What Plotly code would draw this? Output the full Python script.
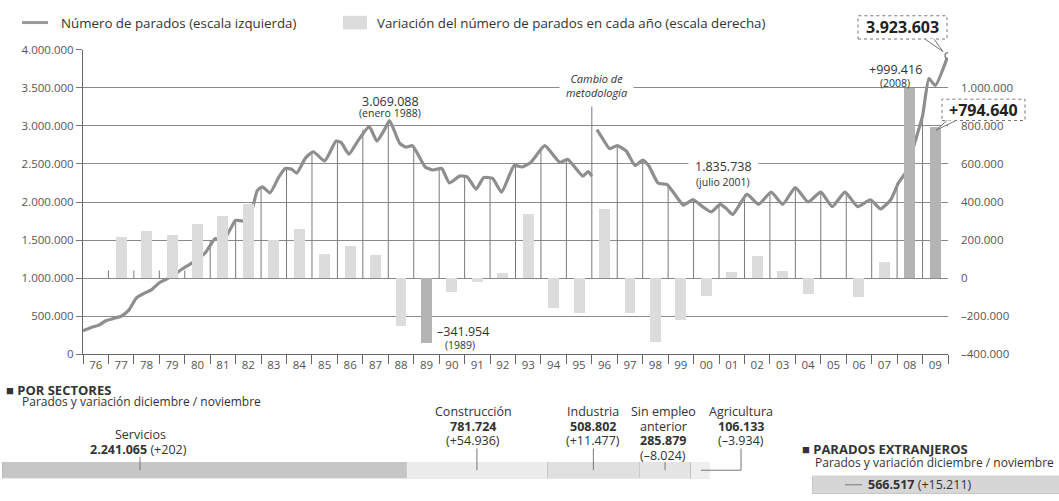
import plotly.graph_objects as go

W, H = 1059, 501

# ---------------- DATA ----------------
# Paro registrado (escala izquierda) - metodología antigua (1976-1996)
fecha_antigua = [1976.00, 1976.30, 1976.60, 1976.90, 1977.20, 1977.50, 1977.80, 1978.10, 1978.40, 1978.70,
                 1979.00, 1979.30, 1979.60, 1979.90, 1980.20, 1980.50, 1980.80, 1981.00, 1981.20, 1981.50,
                 1981.80, 1982.00, 1982.30, 1982.60, 1982.85, 1983.05, 1983.35, 1983.70, 1983.95, 1984.20,
                 1984.40, 1984.75, 1985.05, 1985.50, 1985.95, 1986.15, 1986.45, 1986.80, 1987.25, 1987.55,
                 1987.85, 1988.05, 1988.45, 1988.70, 1988.95, 1989.45, 1989.75, 1990.10, 1990.40, 1990.80,
                 1991.10, 1991.45, 1991.75, 1992.10, 1992.45, 1992.95, 1993.25, 1993.60, 1994.15, 1994.50,
                 1994.75, 1995.05, 1995.65, 1995.85, 1996.00]
paro_antigua = [310000, 350000, 380000, 440000, 470000, 500000, 580000, 740000, 800000, 850000,
                940000, 990000, 1050000, 1120000, 1180000, 1250000, 1330000, 1430000, 1520000, 1490000,
                1650000, 1760000, 1750000, 1850000, 2150000, 2200000, 2120000, 2330000, 2440000, 2430000,
                2380000, 2580000, 2660000, 2540000, 2800000, 2780000, 2630000, 2800000, 2990000, 2800000,
                2950000, 3069088, 2770000, 2720000, 2740000, 2460000, 2420000, 2440000, 2250000, 2340000,
                2330000, 2170000, 2320000, 2310000, 2130000, 2480000, 2460000, 2520000, 2740000, 2610000,
                2520000, 2560000, 2340000, 2400000, 2340000]
# Paro registrado - nueva metodología (1996-2009)
fecha_nueva = [1996.20, 1996.45, 1996.70, 1997.00, 1997.35, 1997.70, 1998.00, 1998.25, 1998.60, 1998.95,
               1999.35, 1999.60, 1999.98, 2000.35, 2000.70, 2001.05, 2001.30, 2001.54, 2002.10, 2002.55,
               2003.05, 2003.50, 2004.00, 2004.50, 2005.00, 2005.45, 2005.95, 2006.45, 2006.95, 2007.35,
               2007.75, 2008.05, 2008.40, 2008.65, 2009.00, 2009.25, 2009.50, 2010.00]
paro_nueva = [2950000, 2820000, 2700000, 2740000, 2670000, 2480000, 2550000, 2470000, 2250000, 2230000,
              2060000, 1960000, 2030000, 1940000, 1870000, 1970000, 1910000, 1835738, 2100000, 1970000,
              2130000, 1970000, 2190000, 2000000, 2130000, 1940000, 2130000, 1940000, 2030000, 1910000,
              2030000, 2250000, 2420000, 2730000, 3130000, 3620000, 3530000, 3923603]

# Variación anual del número de parados (escala derecha)
anios = list(range(1976, 2010))
etiq_anios = ["76", "77", "78", "79", "80", "81", "82", "83", "84", "85", "86", "87", "88", "89", "90", "91", "92",
              "93", "94", "95", "96", "97", "98", "99", "00", "01", "02", "03", "04", "05", "06", "07", "08", "09"]
variacion = [None, 215000, 250000, 226000, 285000, 328000, 392000, 198000, 260000, 127000, 168000, 122000,
             -249000, -341954, -71000, -20000, 25000, 336000, -158000, -183000, 361000, -183000, -336000,
             -219000, -92000, 31000, 117000, 36000, -81000, None, -97000, 85000, 999416, 794640]
destacados = [1989, 2008, 2009]

# Altura de las líneas verticales al inicio de cada año (desde el 0 de la escala derecha)
limites = list(range(1977, 2010))
tope_linea = [1100000, 1100000, 1100000, 1100000, 1500000, 1760000, 2200000, 2440000, 2660000, 2800000,
              2950000, 3069088, 2740000, 2440000, 2330000, 2310000, 2470000, 2720000, 2560000, 3310000,
              2740000, 2550000, 2230000, 2030000, 1970000, 2100000, 2130000, 2190000, 2130000, 2130000,
              2030000, 2250000, 3130000]

ticks_izq = [0, 500000, 1000000, 1500000, 2000000, 2500000, 3000000, 3500000, 4000000]
etiq_izq = ["0", "500.000", "1.000.000", "1.500.000", "2.000.000", "2.500.000", "3.000.000", "3.500.000", "4.000.000"]
ticks_der = [-400000, -200000, 0, 200000, 400000, 600000, 800000, 1000000]
etiq_der = ["–400.000", "–200.000", "0", "200.000", "400.000", "600.000", "800.000", "1.000.000"]

# Por sectores
sectores = ["Servicios", "Construcción", "Industria", "Sin empleo anterior", "Agricultura"]
parados_sector = [2241065, 781724, 508802, 285879, 106133]
variacion_sector = [202, 54936, 11477, -8024, -3934]
colores_sector = ["#c6c6c6", "#ececec", "#e0e0e0", "#e5e5e5", "#eeeeee"]

# Parados extranjeros
extranjeros = 566517
variacion_extranjeros = 15211

# ---------------- helpers ----------------
def px(x):
    return x / W

def py(y):
    return 1 - y / H

def fmt(n, signo=False):
    s = f"{abs(n):,}".replace(",", ".")
    if n < 0:
        return "–" + s
    return ("+" + s) if signo else s

FONT = "Open Sans"
TXT = "#333333"
GRIS = "#555555"

fig = go.Figure()

# Barras de variación anual (eje derecho)
bx = [a + 0.5 for a, v in zip(anios, variacion) if v is not None]
by = [v for v in variacion if v is not None]
bc = ["#b4b4b4" if a in destacados else "#dcdcdc" for a, v in zip(anios, variacion) if v is not None]
fig.add_trace(go.Bar(x=bx, y=by, marker=dict(color=bc, line=dict(width=0)), width=0.43,
                     xaxis="x", yaxis="y2", hoverinfo="skip"))

# Líneas verticales al inicio de cada año (eje izquierdo)
vx, vy = [], []
for b, t in zip(limites, tope_linea):
    vx += [b, b, None]
    vy += [1000000, t, None]
fig.add_trace(go.Scatter(x=vx, y=vy, mode="lines", line=dict(color="#7a7a7a", width=1),
                         xaxis="x", yaxis="y", hoverinfo="skip"))

# Serie del paro
for fx, fv in [(fecha_antigua, paro_antigua), (fecha_nueva, paro_nueva)]:
    fig.add_trace(go.Scatter(x=fx, y=fv, mode="lines",
                             line=dict(color="#8e8e8e", width=3.2, shape="spline", smoothing=0.5),
                             xaxis="x", yaxis="y", hoverinfo="skip"))
fig.add_trace(go.Scatter(x=[fecha_nueva[-1]], y=[paro_nueva[-1]], mode="markers",
                         marker=dict(symbol="circle", size=6, color="white", line=dict(color="#777", width=1.3)),
                         xaxis="x", yaxis="y", hoverinfo="skip"))

# Barra de sectores (apilada)
for nombre, valor, color in zip(sectores, parados_sector, colores_sector):
    fig.add_trace(go.Bar(x=[valor], y=[0], orientation="h", width=1,
                         marker=dict(color=color, line=dict(color="#b8b8b8", width=0.6)),
                         xaxis="x3", yaxis="y3", hoverinfo="skip", name=nombre))

# Parados extranjeros
fig.add_trace(go.Bar(x=[extranjeros], y=[0], orientation="h", width=1,
                     marker=dict(color="#d6d6d6", line=dict(color="#bdbdbd", width=0.6)),
                     xaxis="x4", yaxis="y4", hoverinfo="skip"))

total = sum(parados_sector)

# posiciones (px) de la parte inferior
Y_TIT = 394
Y_R1, Y_R2, Y_R3, Y_R4 = 416, 431, 446, 461
BAR_T, BAR_B = 468, 485
EXT_T, EXT_B = 482, 501

fig.update_layout(
    width=W, height=H,
    margin=dict(l=0, r=0, t=0, b=0),
    paper_bgcolor="white", plot_bgcolor="white",
    showlegend=False, barmode="stack",
    font=dict(family=FONT, color=TXT),
    xaxis=dict(domain=[px(83), px(948)], range=[1976, 2010],
               tickmode="array", tickvals=[a + 0.5 for a in anios], ticktext=etiq_anios,
               ticks="", showgrid=False, zeroline=False, showline=True, linecolor="#666", linewidth=1,
               tickfont=dict(size=11.5, color=GRIS, family=FONT),
               minor=dict(tickmode="array", tickvals=list(range(1976, 2011)), ticks="outside",
                          ticklen=9, tickcolor="#666", tickwidth=1, showgrid=False)),
    yaxis=dict(domain=[py(357), py(43)], range=[0, 4000000],
               tickmode="array", tickvals=ticks_izq, ticktext=etiq_izq,
               showgrid=True, gridcolor="#8a8a8a", gridwidth=1, zeroline=False,
               showline=True, linecolor="#666", linewidth=1,
               ticks="outside", ticklen=6, tickcolor="#777",
               tickfont=dict(size=11.5, color=GRIS, family=FONT)),
    yaxis2=dict(overlaying="y", side="right", anchor="x", range=[-400000, 1200000],
                tickmode="array", tickvals=ticks_der, ticktext=etiq_der,
                showgrid=False, zeroline=False, showline=False, ticks="",
                ticklabelstandoff=12,
                tickfont=dict(size=11.5, color=GRIS, family=FONT)),
    xaxis3=dict(domain=[px(2), px(710)], range=[0, total], visible=False, anchor="y3"),
    yaxis3=dict(domain=[py(BAR_B), py(BAR_T)], range=[-0.5, 0.5], visible=False, anchor="x3"),
    xaxis4=dict(domain=[px(812), 1.0], range=[0, extranjeros * 0.95], visible=False, anchor="y4"),
    yaxis4=dict(domain=[py(EXT_B), py(EXT_T)], range=[-0.5, 0.5], visible=False, anchor="x4"),
)

ann = []
shapes = []

def texto(x, y, t, size=12.5, anchor="center", color=TXT, bg=None, pad=1):
    d = dict(x=px(x), y=py(y), xref="paper", yref="paper", text=t, showarrow=False,
             xanchor=anchor, yanchor="middle", font=dict(size=size, color=color, family=FONT),
             borderpad=pad)
    if bg:
        d["bgcolor"] = bg
    ann.append(d)

def linea(x0, y0, x1, y1, color="#666", w=1, dash="solid"):
    shapes.append(dict(type="line", xref="paper", yref="paper", x0=px(x0), y0=py(y0), x1=px(x1), y1=py(y1),
                       line=dict(color=color, width=w, dash=dash)))

# Leyenda superior
linea(22, 15, 48, 15, color="#9a9a9a", w=3)
texto(59, 15, "Número de parados (escala izquierda)", size=13.3, anchor="left")
shapes.append(dict(type="rect", xref="paper", yref="paper", x0=px(343), x1=px(367), y0=py(22), y1=py(8),
                   fillcolor="#dcdcdc", line=dict(width=0)))
texto(375, 15, "Variación del número de parados en cada año (escala derecha)", size=13.3, anchor="left")

# Anotaciones del gráfico
texto(390, 96, fmt(3069088), size=12.5)
texto(390, 108, "(enero 1988)", size=10.5)
texto(596, 80, "<i>Cambio de</i><br><i>metodología</i>", size=11, bg="white", pad=6)
texto(723, 163, fmt(1835738), size=12.5, bg="white", pad=6)
texto(723, 179, "(julio 2001)", size=10.5)
texto(895, 63, fmt(999416, True), size=12.5)
texto(895, 77, "(2008)", size=10.5)
texto(463, 333, fmt(-341954), size=12.5)
texto(460, 347, "(1989)", size=10.5)

# Recuadros destacados
shapes.append(dict(type="rect", xref="paper", yref="paper", x0=px(858), x1=px(947), y0=py(32), y1=py(8),
                   fillcolor="white", line=dict(color="#777", width=1, dash="dot")))
shapes.append(dict(type="path", xref="paper", yref="paper",
                   path=f"M {px(925)} {py(32)} L {px(943)} {py(45)} L {px(934)} {py(32)}",
                   line=dict(color="#777", width=1), fillcolor="white"))
texto(902, 20, "<b>" + fmt(paro_nueva[-1]) + "</b>", size=16, color="#222")

shapes.append(dict(type="rect", xref="paper", yref="paper", x0=px(942), x1=px(1025), y0=py(116), y1=py(94),
                   fillcolor="white", line=dict(color="#777", width=1, dash="dot")))
shapes.append(dict(type="path", xref="paper", yref="paper",
                   path=f"M {px(947)} {py(116)} L {px(936)} {py(126)} L {px(956)} {py(116)}",
                   line=dict(color="#777", width=1), fillcolor="white"))
texto(983, 105, "<b>" + fmt(variacion[-1], True) + "</b>", size=16, color="#222")

# ----- Por sectores -----
texto(4, Y_TIT, "<b>■ POR SECTORES</b>", size=13, anchor="left")
texto(20, Y_TIT + 12, "Parados y variación diciembre / noviembre", size=12, anchor="left")

texto(140, 440, sectores[0], size=12.5)
texto(138, 455, "<b>" + fmt(parados_sector[0]) + "</b> (" + fmt(variacion_sector[0], True) + ")", size=12.5)

texto(473, Y_R1, sectores[1], size=12.5)
texto(473, Y_R2, "<b>" + fmt(parados_sector[1]) + "</b>", size=12.5)
texto(473, Y_R3, "(" + fmt(variacion_sector[1], True) + ")", size=12.5)

texto(593, Y_R1, sectores[2], size=12.5)
texto(593, Y_R2, "<b>" + fmt(parados_sector[2]) + "</b>", size=12.5)
texto(593, Y_R3, "(" + fmt(variacion_sector[2], True) + ")", size=12.5)

texto(663, Y_R1, "Sin empleo", size=12.5)
texto(663, Y_R2, "anterior", size=12.5)
texto(663, Y_R3, "<b>" + fmt(parados_sector[3]) + "</b>", size=12.5)
texto(663, Y_R4, "(" + fmt(variacion_sector[3], True) + ")", size=12.5)

texto(741, Y_R1, sectores[4], size=12.5)
texto(741, Y_R2, "<b>" + fmt(parados_sector[4]) + "</b>", size=12.5)
texto(741, Y_R3, "(" + fmt(variacion_sector[4], True) + ")", size=12.5)

# Líneas guía hacia la barra
cum = 0
centros = []
for v in parados_sector:
    centros.append(cum + v / 2)
    cum += v
MID = (BAR_T + BAR_B) / 2
def guia_x3(xc, y0, y1):
    shapes.append(dict(type="line", xref="x3", yref="paper", x0=xc, x1=xc, y0=py(y0), y1=py(y1),
                       line=dict(color="#777", width=1)))
linea(140, 463, 140, MID, color="#777")
guia_x3(centros[1], Y_R3 + 8, MID)
guia_x3(centros[2], Y_R3 + 8, MID)
guia_x3(centros[3], Y_R4 + 7, MID)
linea(741, Y_R3 + 8, 741, MID, color="#777")
linea(701, MID, 741, MID, color="#777")

# ----- Parados extranjeros -----
texto(800, 455, "<b>■ PARADOS EXTRANJEROS</b>", size=13, anchor="left")
texto(813, 469, "Parados y variación diciembre / noviembre", size=12, anchor="left")
EMID = (EXT_T + EXT_B) / 2
linea(845, EMID, 862, EMID, color="#777")
texto(866, EMID, "<b>" + fmt(extranjeros) + "</b> (" + fmt(variacion_extranjeros, True) + ")", size=12.5, anchor="left")

fig.update_layout(annotations=ann, shapes=shapes)

fig.write_html("out.html", config={"displayModeBar": False},
               post_script="document.body.style.margin='0';document.body.style.overflow='hidden';")
